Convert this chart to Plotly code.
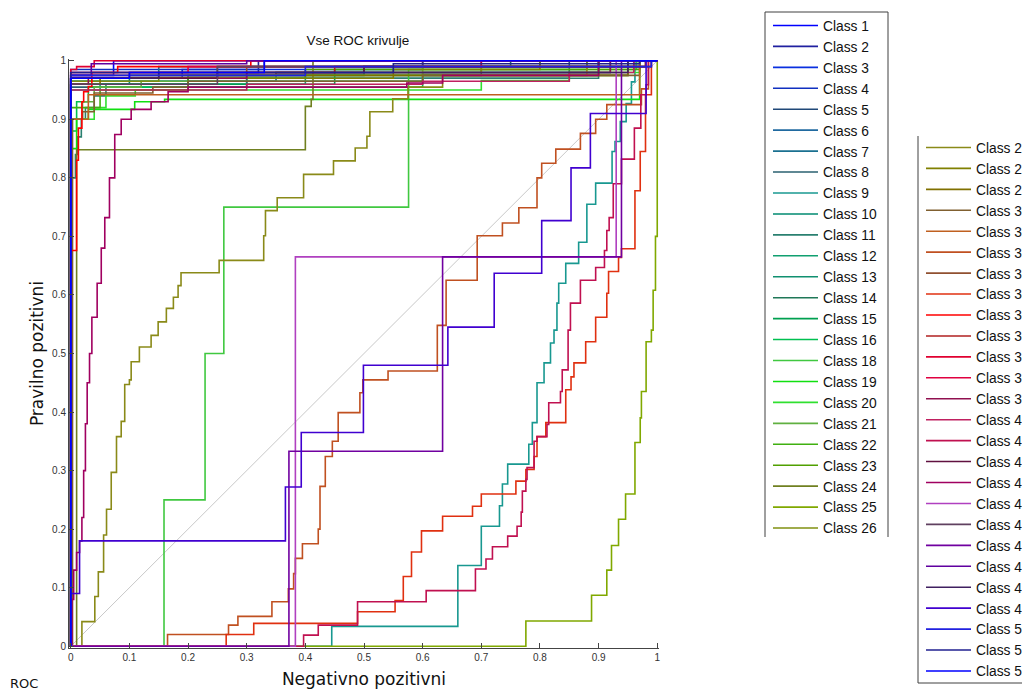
import plotly.graph_objects as go

# ---------------- data ----------------
class_ids = [1, 2, 3, 4, 5, 6, 7, 8, 9, 10, 11, 12, 13, 14, 15, 16, 18, 19, 20, 21, 22, 23, 24, 25, 26,
             27, 28, 29, 30, 31, 32, 33, 34, 35, 36, 37, 38, 39, 40, 41, 42, 43, 44, 45, 46, 47, 48, 49, 50, 51, 52]
class_names = ["Class %d" % i for i in class_ids]

c01_fpr = [0, 0, 0.073, 1]; c01_tpr = [0, 0.975, 1, 1]
c02_fpr = [0, 0, 0.32, 1]; c02_tpr = [0, 0.98, 1, 1]
c03_fpr = [0, 0, 0.19, 0.6, 1]; c03_tpr = [0, 0.97, 0.985, 1, 1]
c04_fpr = [0, 0, 0.33, 1]; c04_tpr = [0, 0.985, 1, 1]
c05_fpr = [0, 0, 0.2, 0.7, 1]; c05_tpr = [0, 0.96, 0.975, 1, 1]
c06_fpr = [0, 0, 0.35, 0.9, 1]; c06_tpr = [0, 0.965, 0.98, 1, 1]
c07_fpr = [0, 0, 0.15, 0.8, 1]; c07_tpr = [0, 0.97, 0.99, 1, 1]
c08_fpr = [0, 0, 0.3, 0.85, 1]; c08_tpr = [0, 0.955, 0.97, 1, 1]
c09_fpr = [0, 0.445, 0.66, 0.70, 0.731, 0.736, 0.745, 0.781, 0.787, 0.795, 0.807, 0.818, 0.824, 0.829, 0.832,
           0.844, 0.866, 0.88, 0.895, 0.923, 0.928, 0.937, 0.947, 0.956, 0.962, 1]
c09_tpr = [0, 0.034, 0.138, 0.205, 0.24, 0.277, 0.311, 0.345, 0.382, 0.45, 0.484, 0.518, 0.54, 0.586, 0.62,
           0.654, 0.69, 0.755, 0.791, 0.845, 0.862, 0.896, 0.927, 0.964, 1, 1]
c10_fpr = [0, 0, 0.1, 0.5, 0.95, 1]; c10_tpr = [0, 0.96, 0.975, 0.99, 1, 1]
c11_fpr = [0, 0, 0.008, 0.012, 0.018, 0.025, 0.04, 0.06, 0.3, 0.9, 1]
c11_tpr = [0, 0.8, 0.84, 0.87, 0.9, 0.92, 0.94, 0.96, 0.97, 1, 1]
c12_fpr = [0, 0, 0.05, 0.4, 0.9, 1]; c12_tpr = [0, 0.95, 0.96, 0.98, 1, 1]
c13_fpr = [0, 0, 0.6, 0.92, 1]; c13_tpr = [0, 0.965, 0.98, 1, 1]
c14_fpr = [0, 0, 0.25, 0.75, 1]; c14_tpr = [0, 0.97, 0.99, 1, 1]
c15_fpr = [0, 0, 0.45, 0.88, 1]; c15_tpr = [0, 0.96, 0.985, 1, 1]
c16_fpr = [0, 0, 0.01, 0.03, 0.6, 0.9, 1]; c16_tpr = [0, 0.88, 0.93, 0.955, 0.975, 1, 1]
c18_fpr = [0, 0.159, 0.229, 0.261, 0.576, 0.965, 1]; c18_tpr = [0, 0.25, 0.5, 0.75, 0.985, 1, 1]
c19_fpr = [0, 0, 0.01, 0.03, 0.109, 0.16, 0.97, 1]; c19_tpr = [0, 0.85, 0.9, 0.917, 0.93, 0.934, 1, 1]
c20_fpr = [0, 0, 0.04, 0.06, 0.11, 0.7, 0.85, 0.97, 1]; c20_tpr = [0, 0.9, 0.92, 0.94, 0.95, 0.966, 0.98, 1, 1]
c21_fpr = [0, 0, 0.02, 0.04, 0.12, 0.6, 0.96, 1]; c21_tpr = [0, 0.9, 0.93, 0.955, 0.965, 0.99, 1, 1]
c22_fpr = [0, 0, 0.05, 0.2, 0.95, 1]; c22_tpr = [0, 0.92, 0.95, 0.975, 1, 1]
c23_fpr = [0, 0, 0.4, 0.97, 1]; c23_tpr = [0, 0.97, 0.985, 1, 1]
c24_fpr = [0, 0.01, 0.4, 0.41, 0.413, 1]; c24_tpr = [0, 0.848, 0.922, 0.934, 1, 1]
c25_fpr = [0, 0.776, 0.888, 0.914, 0.922, 0.934, 0.946, 0.962, 0.971, 0.973, 0.981, 0.99, 0.993, 0.997, 1]
c25_tpr = [0, 0.043, 0.087, 0.13, 0.172, 0.217, 0.26, 0.348, 0.39, 0.435, 0.52, 0.54, 0.608, 0.7, 1]
c26_fpr = [0, 0, 0.15, 0.35, 0.7, 0.98, 1]; c26_tpr = [0, 0.965, 0.975, 0.98, 0.99, 1, 1]
c27_fpr = [0, 0.019, 0.041, 0.047, 0.056, 0.061, 0.069, 0.078, 0.086, 0.092, 0.1, 0.103, 0.117, 0.137, 0.149,
           0.163, 0.175, 0.183, 0.188, 0.253, 0.329, 0.332, 0.352, 0.397, 0.448, 0.485, 0.505, 0.51, 0.549,
           0.575, 0.634, 0.88, 1]
c27_tpr = [0, 0.042, 0.085, 0.127, 0.19, 0.234, 0.297, 0.358, 0.384, 0.447, 0.455, 0.486, 0.511, 0.531, 0.554,
           0.577, 0.596, 0.616, 0.638, 0.659, 0.701, 0.744, 0.766, 0.806, 0.829, 0.851, 0.871, 0.913, 0.935,
           0.955, 0.975, 1, 1]
c28_fpr = [0, 0, 0.55, 0.8, 1]; c28_tpr = [0, 0.97, 0.985, 1, 1]
c29_fpr = [0, 0, 0.05, 0.3, 0.95, 1]; c29_tpr = [0, 0.96, 0.97, 0.975, 1, 1]
c30_fpr = [0, 0.003, 0.02, 0.04, 0.14, 0.2, 0.6, 0.97, 1]; c30_tpr = [0, 0.9, 0.913, 0.945, 0.955, 0.965, 0.975, 1, 1]
c31_fpr = [0, 0, 0.03, 0.97, 1]; c31_tpr = [0, 0.9, 0.942, 1, 1]
c32_fpr = [0, 0.165, 0.269, 0.285, 0.343, 0.371, 0.38, 0.383, 0.395, 0.422, 0.425, 0.434, 0.446, 0.456, 0.493,
           0.498, 0.541, 0.625, 0.64, 0.693, 0.736, 0.764, 0.795, 0.803, 0.827, 0.869, 0.895, 0.914, 0.973, 0.985, 1]
c32_tpr = [0, 0.02, 0.036, 0.051, 0.076, 0.098, 0.124, 0.15, 0.175, 0.2, 0.273, 0.324, 0.35, 0.399, 0.433,
           0.455, 0.47, 0.548, 0.625, 0.701, 0.723, 0.749, 0.8, 0.825, 0.849, 0.876, 0.9, 0.925, 0.952, 1, 1]
c33_fpr = [0, 0, 0.3, 0.9, 1]; c33_tpr = [0, 0.975, 0.99, 1, 1]
c34_fpr = [0, 0.265, 0.312, 0.489, 0.553, 0.567, 0.581, 0.598, 0.634, 0.685, 0.7, 0.759, 0.776, 0.79, 0.795,
           0.81, 0.844, 0.853, 0.858, 0.878, 0.895, 0.914, 0.917, 0.934, 0.939, 0.962, 0.971, 0.98, 0.99, 1]
c34_tpr = [0, 0.02, 0.039, 0.059, 0.078, 0.119, 0.161, 0.197, 0.222, 0.239, 0.26, 0.282, 0.302, 0.324, 0.358,
           0.382, 0.438, 0.46, 0.484, 0.52, 0.562, 0.603, 0.64, 0.664, 0.679, 0.778, 0.845, 0.942, 1, 1]
c35_fpr = [0, 0, 0.01, 0.013, 0.019, 0.022, 0.03, 0.036, 0.08, 0.307, 1]
c35_tpr = [0, 0.676, 0.83, 0.885, 0.93, 0.947, 0.956, 0.98, 0.99, 1, 1]
c36_fpr = [0, 0, 0.1, 0.45, 0.98, 1]; c36_tpr = [0, 0.97, 0.98, 0.99, 1, 1]
c37_fpr = [0, 0, 0.01, 0.04, 1]; c37_tpr = [0, 0.985, 0.99, 1, 1]
c38_fpr = [0, 0, 0.2, 0.7, 1]; c38_tpr = [0, 0.98, 0.99, 1, 1]
c39_fpr = [0, 0, 0.03, 0.3, 0.92, 1]; c39_tpr = [0, 0.96, 0.97, 0.98, 1, 1]
c40_fpr = [0, 0, 0.3, 0.6, 0.85, 0.96, 1]; c40_tpr = [0, 0.95, 0.96, 0.965, 0.98, 1, 1]
c41_fpr = [0, 0.397, 0.422, 0.489, 0.606, 0.69, 0.708, 0.719, 0.745, 0.761, 0.768, 0.77, 0.776, 0.778, 0.79,
           0.795, 0.812, 0.815, 0.835, 0.838, 0.848, 0.852, 0.869, 0.895, 0.91, 0.914, 0.918, 0.925, 0.939,
           0.961, 0.972, 0.981, 0.985, 1]
c41_tpr = [0, 0.019, 0.036, 0.076, 0.095, 0.132, 0.149, 0.17, 0.188, 0.205, 0.229, 0.265, 0.285, 0.305, 0.35,
           0.358, 0.379, 0.416, 0.435, 0.472, 0.54, 0.586, 0.625, 0.647, 0.676, 0.71, 0.732, 0.79, 0.832,
           0.885, 0.942, 0.959, 1, 1]
c42_fpr = [0, 0, 0.25, 0.5, 0.99, 1]; c42_tpr = [0, 0.97, 0.98, 0.99, 1, 1]
c43_fpr = [0, 0.002, 0.005, 0.01, 0.015, 0.019, 0.022, 0.025, 0.028, 0.032, 0.036, 0.045, 0.052, 0.058, 0.066,
           0.075, 0.086, 0.103, 0.137, 0.166, 0.2, 0.573, 0.634, 0.9, 1]
c43_tpr = [0, 0.08, 0.13, 0.16, 0.18, 0.22, 0.3, 0.38, 0.45, 0.5, 0.562, 0.62, 0.68, 0.732, 0.8,
           0.874, 0.9, 0.917, 0.93, 0.947, 0.955, 0.962, 0.975, 1, 1]
c44_fpr = [0, 0.383, 0.93, 1]; c44_tpr = [0, 0.665, 1, 1]
c45_fpr = [0, 0, 0.25, 0.6, 1]; c45_tpr = [0, 0.96, 0.99, 1, 1]
c46_fpr = [0, 0.372, 0.634, 0.939, 1]; c46_tpr = [0, 0.333, 0.665, 1, 1]
c47_fpr = [0, 0, 0.035, 0.3, 1]; c47_tpr = [0, 0.975, 0.995, 1, 1]
c48_fpr = [0, 0, 0.15, 0.95, 1]; c48_tpr = [0, 0.97, 0.98, 1, 1]
c49_fpr = [0, 0, 0.015, 0.366, 0.393, 0.499, 0.643, 0.722, 0.803, 0.853, 0.886, 0.981, 1]
c49_tpr = [0, 0.09, 0.18, 0.272, 0.365, 0.48, 0.545, 0.637, 0.727, 0.817, 0.91, 1, 1]
c50_fpr = [0, 0, 0.4, 0.99, 1]; c50_tpr = [0, 0.975, 0.99, 1, 1]
c51_fpr = [0, 0, 0.55, 0.97, 1]; c51_tpr = [0, 0.98, 0.995, 1, 1]
c52_fpr = [0, 0, 0.1, 0.33, 1]; c52_tpr = [0, 0.97, 0.98, 1, 1]

curves = [
    (c01_fpr, c01_tpr), (c02_fpr, c02_tpr), (c03_fpr, c03_tpr), (c04_fpr, c04_tpr), (c05_fpr, c05_tpr),
    (c06_fpr, c06_tpr), (c07_fpr, c07_tpr), (c08_fpr, c08_tpr), (c09_fpr, c09_tpr), (c10_fpr, c10_tpr),
    (c11_fpr, c11_tpr), (c12_fpr, c12_tpr), (c13_fpr, c13_tpr), (c14_fpr, c14_tpr), (c15_fpr, c15_tpr),
    (c16_fpr, c16_tpr), (c18_fpr, c18_tpr), (c19_fpr, c19_tpr), (c20_fpr, c20_tpr), (c21_fpr, c21_tpr),
    (c22_fpr, c22_tpr), (c23_fpr, c23_tpr), (c24_fpr, c24_tpr), (c25_fpr, c25_tpr), (c26_fpr, c26_tpr),
    (c27_fpr, c27_tpr), (c28_fpr, c28_tpr), (c29_fpr, c29_tpr), (c30_fpr, c30_tpr), (c31_fpr, c31_tpr),
    (c32_fpr, c32_tpr), (c33_fpr, c33_tpr), (c34_fpr, c34_tpr), (c35_fpr, c35_tpr), (c36_fpr, c36_tpr),
    (c37_fpr, c37_tpr), (c38_fpr, c38_tpr), (c39_fpr, c39_tpr), (c40_fpr, c40_tpr), (c41_fpr, c41_tpr),
    (c42_fpr, c42_tpr), (c43_fpr, c43_tpr), (c44_fpr, c44_tpr), (c45_fpr, c45_tpr), (c46_fpr, c46_tpr),
    (c47_fpr, c47_tpr), (c48_fpr, c48_tpr), (c49_fpr, c49_tpr), (c50_fpr, c50_tpr), (c51_fpr, c51_tpr),
    (c52_fpr, c52_tpr),
]

diag_x = [0, 1]
diag_y = [0, 1]

tick_vals = [0, 0.1, 0.2, 0.3, 0.4, 0.5, 0.6, 0.7, 0.8, 0.9, 1]
tick_text = ["0", "0.1", "0.2", "0.3", "0.4", "0.5", "0.6", "0.7", "0.8", "0.9", "1"]

# ---------------- styles ----------------
class_colors = [
    "#0000ff", "#2020a0", "#0a30e0", "#1030c0", "#204878", "#206aa0", "#1a7090", "#2a6070", "#189890",
    "#008a70", "#2a8070", "#10a070", "#109070", "#207858", "#00a050", "#00c050", "#40c840", "#10e010",
    "#30e030", "#60b040", "#40b010", "#50a000", "#708020", "#80a800", "#809010",
    "#8a8a18", "#808000", "#807000", "#806030", "#c06020", "#c05020", "#905030", "#e03010", "#ff0000",
    "#b02020", "#e00030", "#e00040", "#901050", "#c02060", "#c01050", "#601040", "#a00060", "#b040c0",
    "#604060", "#7000a0", "#6000a0", "#402060", "#4000d0", "#2020e0", "#202090", "#0000ff",
]

FONT = "Liberation Sans, Arial, sans-serif"
OFF = 8                      # page body margin of the html page
PAGE_W, PAGE_H = 1030, 697
W, H = PAGE_W - OFF, PAGE_H - OFF
L, R, T, B = 69, 659, 59, 648  # plot area in page pixels


def px_x(p):
    return (p - L) / (R - L)


def px_y(p):
    return (B - p) / (B - T)


fig = go.Figure()

fig.add_trace(go.Scatter(x=diag_x, y=diag_y, mode="lines", showlegend=False,
                         line=dict(color="#c8c8c8", width=1), hoverinfo="skip"))

for k, (name, col, (fx, ty)) in enumerate(zip(class_names, class_colors, curves)):
    cid = class_ids[k]
    fig.add_trace(go.Scatter(
        x=fx, y=ty, mode="lines", name=name,
        line=dict(color=col, width=1.6, shape="hv"),
        legend="legend" if cid <= 26 else "legend2",
    ))

border = "#404040"
shapes = [
    dict(type="line", xref="paper", yref="paper", x0=px_x(765), x1=px_x(888), y0=px_y(12), y1=px_y(12)),
    dict(type="line", xref="paper", yref="paper", x0=px_x(765), x1=px_x(765), y0=px_y(12), y1=px_y(537)),
    dict(type="line", xref="paper", yref="paper", x0=px_x(888), x1=px_x(888), y0=px_y(12), y1=px_y(537)),
    dict(type="line", xref="paper", yref="paper", x0=px_x(918), x1=px_x(918), y0=px_y(136), y1=px_y(683)),
    dict(type="line", xref="paper", yref="paper", x0=px_x(918), x1=px_x(1034), y0=px_y(683), y1=px_y(683)),
]
for s in shapes:
    s["line"] = dict(color=border, width=1)

legend_common = dict(
    xanchor="left", yanchor="top", bgcolor="rgba(0,0,0,0)", borderwidth=0,
    font=dict(family=FONT, size=13.8, color="#111111"), itemwidth=45, maxheight=2000,
    tracegroupgap=0, traceorder="normal", itemclick=False, itemdoubleclick=False,
)

fig.update_layout(
    width=W, height=H,
    margin=dict(l=L - OFF, r=PAGE_W - R, t=T - OFF, b=PAGE_H - B, autoexpand=False),
    paper_bgcolor="white", plot_bgcolor="white",
    title=dict(text="Vse ROC krivulje", x=(358 - OFF) / W, xanchor="center",
               y=1 - (40 - OFF) / H, yanchor="middle", font=dict(family=FONT, size=13.5, color="#111111")),
    xaxis=dict(range=[-0.003, 1.003], tickvals=tick_vals, ticktext=tick_text, ticks="inside", ticklen=5,
               tickcolor="#444444", showline=True, linecolor="#444444", linewidth=1, showgrid=False,
               zeroline=False, tickfont=dict(family=FONT, size=10, color="#333333"),
               title=dict(text="Negativno pozitivni", standoff=11,
                          font=dict(family="DejaVu Sans, sans-serif", size=17, color="#111111"))),
    yaxis=dict(range=[-0.003, 1.003], tickvals=tick_vals, ticktext=tick_text, ticks="inside", ticklen=5,
               tickcolor="#444444", showline=True, linecolor="#444444", linewidth=1, showgrid=False,
               zeroline=False, tickfont=dict(family=FONT, size=10, color="#333333"),
               title=dict(text="Pravilno pozitivni", standoff=4,
                          font=dict(family="DejaVu Sans, sans-serif", size=17, color="#111111"))),
    legend=dict(x=px_x(768), y=px_y(10), **legend_common),
    legend2=dict(x=px_x(921), y=px_y(132), **legend_common),
    shapes=shapes,
    annotations=[dict(text="ROC", xref="paper", yref="paper", x=px_x(24), y=px_y(683),
                      xanchor="center", yanchor="middle", showarrow=False,
                      font=dict(family="DejaVu Sans, sans-serif", size=13, color="#111111"))],
    showlegend=True,
)

fig.write_html("out.html")
